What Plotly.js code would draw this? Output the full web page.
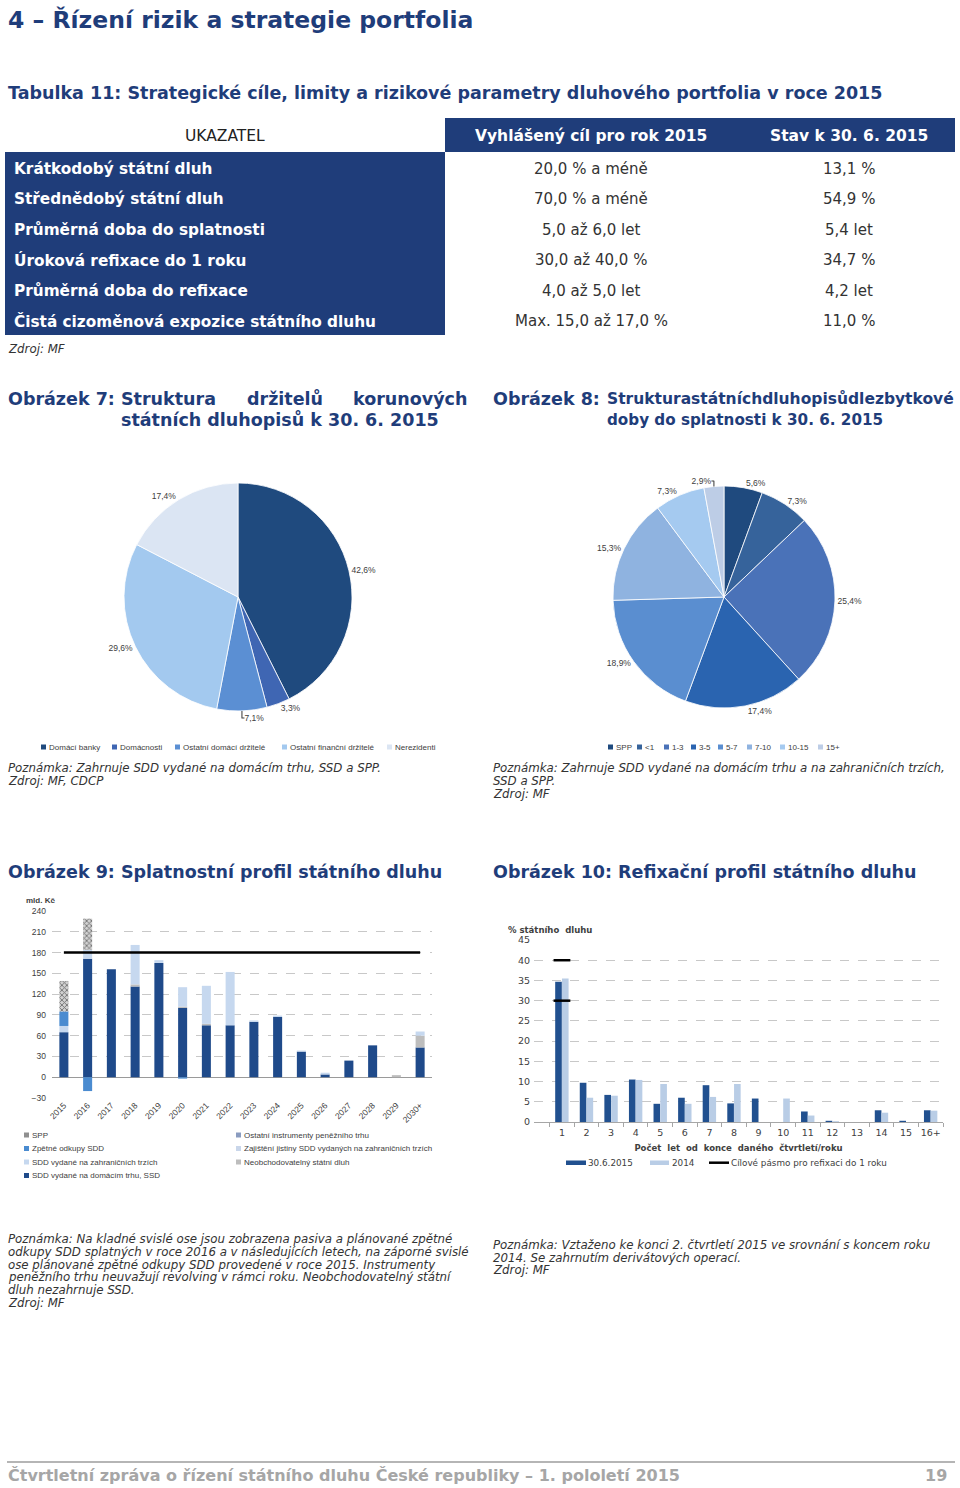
<!DOCTYPE html>
<html>
<head>
<meta charset="utf-8">
<script src="https://cdn.plot.ly/plotly-3.0.1.min.js"></script>
<style>
html,body{margin:0;padding:0;background:#fff;}
#page{width:960px;height:1488px;}
</style>
</head>
<body>
<div id="page"></div>
<script>
// ---------------- DATA ----------------
// Tabulka 11
const tableHeader = ['UKAZATEL', 'Vyhlášený cíl pro rok 2015', 'Stav k 30. 6. 2015'];
const tableIndicators = ['Krátkodobý státní dluh', 'Střednědobý státní dluh', 'Průměrná doba do splatnosti',
  'Úroková refixace do 1 roku', 'Průměrná doba do refixace', 'Čistá cizoměnová expozice státního dluhu'];
const tableTargets = ['20,0 % a méně', '70,0 % a méně', '5,0 až 6,0 let', '30,0 až 40,0 %', '4,0 až 5,0 let', 'Max. 15,0 až 17,0 %'];
const tableActual = ['13,1 %', '54,9 %', '5,4 let', '34,7 %', '4,2 let', '11,0 %'];

// Obrázek 7
const holdersLabels = ['Domácí banky', 'Domácnosti', 'Ostatní domácí držitelé', 'Ostatní finanční držitelé', 'Nerezidenti'];
const holdersValues = [42.6, 3.3, 7.1, 29.6, 17.4];

// Obrázek 8
const maturityLabels = ['SPP', '<1', '1-3', '3-5', '5-7', '7-10', '10-15', '15+'];
const maturityValues = [5.6, 7.3, 25.4, 17.4, 18.9, 15.3, 7.3, 2.9];

// Obrázek 9 (mld. Kč)
const years = ['2015','2016','2017','2018','2019','2020','2021','2022','2023','2024','2025','2026','2027','2028','2029','2030+'];
const sddDomestic   = [65, 171, 156, 131, 165, 100, 75, 75, 80, 87, 37, 4, 24, 46, 0, 43];
const nonMarketable = [0, 0, 0, 3, 0, 2, 2, 0, 0, 0, 0, 0, 0, 0, 3, 17];
const sddForeign    = [9, 13, 0, 57, 4, 28, 55, 77, 2, 2, 1.5, 2.5, 0, 0, 0, 6];
const buybacks      = [21, -20, 0, 0, 0, -2, 0, 0, 0, 0, 0, 0, 0, 0, 0, 0];
const sppIssues     = [44, 45, 0, 0, 0, 0, 0, 0, 0, 0, 0, 0, 0, 0, 0, 0];
const maturityLimit = 180;
const legend9Left  = ['SPP', 'Zpětné odkupy SDD', 'SDD vydané na zahraničních trzích', 'SDD vydané na domácím trhu, SSD'];
const legend9Right = ['Ostatní instrumenty peněžního trhu', 'Zajištění jistiny SDD vydaných na zahraničních trzích', 'Neobchodovatelný státní dluh'];

// Obrázek 10 (% státního dluhu)
const refixBuckets = ['1','2','3','4','5','6','7','8','9','10','11','12','13','14','15','16+'];
const refix2015 = [34.7, 9.7, 6.7, 10.5, 4.5, 6.0, 9.1, 4.6, 5.8, 0, 2.6, 0.3, 0, 2.9, 0.3, 2.9];
const refix2014 = [35.5, 6.0, 6.5, 10.4, 9.4, 4.5, 6.2, 9.4, 0, 5.8, 1.6, 0.2, 0, 2.3, 0, 2.8];
const refixTargetBand = [30, 40];
const legend10 = ['30.6.2015', '2014', 'Cílové pásmo pro refixaci do 1 roku'];

// ---------------- STYLE ----------------
const W = 960, H = 1488;
const X = p => p / W;
const Y = p => 1 - p / H;
const FONT = 'DejaVu Sans, Verdana, sans-serif';
const CFONT = 'Liberation Sans, Arial, sans-serif';
const NAVY = '#1f3d7a';
const TEXT = '#333333';
const LEG = '#404040';
const holdersColors = ['#1f4a7e', '#3f66b3', '#5b8fd3', '#a3c9ef', '#dbe5f3'];
const maturityColors = ['#1f4a7e', '#36639b', '#4a72b8', '#2a64b0', '#5a8ed0', '#8fb3e0', '#a5caf0', '#bdcde6'];
const c9 = {dom:'#1f4a8a', neob:'#bdbdbd', foreign:'#c6d8ef', buy:'#4a8bd0', spp:'#cfcfcf', other:'#8a9cc0', guar:'#c9d6ea'};
const c10 = {a:'#21508f', b:'#b9cde6'};

// table geometry (page pixels)
const TBL = {x0:5, x1:955, top:118, headH:34, rowH:30.5, colEdges:[5, 445, 735, 955],
  textX:[13, 591, 849], textDy:1.5};

const annotations = [];
const shapes = [];
function addText(text, x, y, size, o) {
  o = o || {};
  annotations.push({
    xref:o.xref || 'paper', yref:o.yref || 'paper',
    x:o.xref ? x : X(x), y:o.yref ? y : Y(y), text:text, showarrow:false,
    xanchor:o.anchor || 'left', yanchor:'middle', align:'left', borderpad:0,
    font:{family:o.family || FONT, size:size, color:o.color || TEXT}
  });
}
function addRect(x0, x1, y0, y1, color) {
  shapes.push({type:'rect', xref:'paper', yref:'paper', x0:X(x0), x1:X(x1), y0:Y(y1), y1:Y(y0),
    fillcolor:color, line:{width:0}});
}
function addLine(x0, x1, y, color, w) {
  shapes.push({type:'line', xref:'paper', yref:'paper', x0:X(x0), x1:X(x1), y0:Y(y), y1:Y(y),
    line:{color:color, width:w}});
}

// ---------------- TEXT ----------------
addText('<b>4 – Řízení rizik a strategie portfolia</b>', 7, 20, 23.5, {color:NAVY});
addText('<b>Tabulka 11: Strategické cíle, limity a rizikové parametry dluhového portfolia v roce 2015</b>', 7, 93, 17.5, {color:NAVY});
addText('<i>Zdroj: MF</i>', 7, 349, 11.8);

addText('<b>Obrázek 7:</b>', 7, 399, 17.5, {color:NAVY});
addText('<b>Struktura</b>', 120, 399, 17.5, {color:NAVY});
addText('<b>držitelů</b>', 246, 399, 17.5, {color:NAVY});
addText('<b>korunových</b>', 468, 399, 17.5, {color:NAVY, anchor:'right'});
addText('<b>státních dluhopisů k 30. 6. 2015</b>', 120, 420, 17.5, {color:NAVY});
addText('<b>Obrázek 8:</b>', 492, 399, 17.5, {color:NAVY});
addText('<b>Strukturastátníchdluhopisůdlezbytkové</b>', 606, 399, 15.5, {color:NAVY});
addText('<b>doby do splatnosti k 30. 6. 2015</b>', 606, 420, 15.2, {color:NAVY});

addText('<i>Poznámka: Zahrnuje SDD vydané na domácím trhu, SSD a SPP.</i>', 7, 768, 11.8);
addText('<i>Zdroj: MF, CDCP</i>', 7, 781, 11.8);
addText('<i>Poznámka: Zahrnuje SDD vydané na domácím trhu a na zahraničních trzích,</i>', 492, 768, 11.8);
addText('<i>SSD a SPP.</i>', 492, 781, 11.8);
addText('<i>Zdroj: MF</i>', 492, 794, 11.8);

addText('<b>Obrázek 9: Splatnostní profil státního dluhu</b>', 7, 872, 17.5, {color:NAVY});
addText('<b>Obrázek 10: Refixační profil státního dluhu</b>', 492, 872, 17.5, {color:NAVY});

const note9 = ['Poznámka: Na kladné svislé ose jsou zobrazena pasiva a plánované zpětné',
  'odkupy SDD splatných v roce 2016 a v následujících letech, na záporné svislé',
  'ose plánované zpětné odkupy SDD provedené v roce 2015. Instrumenty',
  'peněžního trhu neuvažují revolving v rámci roku. Neobchodovatelný státní',
  'dluh nezahrnuje SSD.', 'Zdroj: MF'];
note9.forEach((t, i) => addText('<i>' + t + '</i>', 7, 1239 + i * 12.8, 11.8));
const note10 = ['Poznámka: Vztaženo ke konci 2. čtvrtletí 2015 ve srovnání s koncem roku',
  '2014. Se zahrnutím derivátových operací.', 'Zdroj: MF'];
note10.forEach((t, i) => addText('<i>' + t + '</i>', 492, 1245 + i * 12.5, 11.8));

addLine(7, 955, 1462, '#b5b5b5', 2);
addText('<b>Čtvrtletní zpráva o řízení státního dluhu České republiky – 1. pololetí 2015</b>', 7, 1475, 16, {color:'#a6a6a6'});
addText('<b>19</b>', 948, 1475, 16, {color:'#a6a6a6', anchor:'right'});

// chart-internal text
addText('<b>mld. Kč</b>', 25, 900, 8, {family:CFONT, color:LEG});
addText('<b>% státního  dluhu</b>', 507, 930, 8.5, {color:LEG});

// ---------------- TABLE TEXT ----------------
const rowCenter = i => TBL.top + TBL.headH + TBL.rowH * (i + 0.5) + TBL.textDy;
const headCenter = TBL.top + TBL.headH / 2 + 1;
addText(tableHeader[0], (TBL.colEdges[0] + TBL.colEdges[1]) / 2, headCenter, 15.5, {xref:'x3', yref:'y3', anchor:'center', color:'#222222'});
addText('<b>' + tableHeader[1] + '</b>', TBL.textX[1], headCenter, 15.5, {xref:'x3', yref:'y3', anchor:'center', color:'white'});
addText('<b>' + tableHeader[2] + '</b>', TBL.textX[2], headCenter, 15.5, {xref:'x3', yref:'y3', anchor:'center', color:'white'});
tableIndicators.forEach((t, i) => {
  addText('<b>' + t + '</b>', TBL.textX[0], rowCenter(i), 15.3, {xref:'x3', yref:'y3', color:'white'});
  addText(tableTargets[i], TBL.textX[1], rowCenter(i), 15, {xref:'x3', yref:'y3', anchor:'center', color:TEXT});
  addText(tableActual[i], TBL.textX[2], rowCenter(i), 15, {xref:'x3', yref:'y3', anchor:'center', color:TEXT});
});

// ---------------- LEGENDS (compact) ----------------
const esc = s => s.replace(/</g, '&lt;');
const leg7x = [41, 112, 175, 282, 387];
holdersLabels.forEach((l, i) => {
  addRect(leg7x[i], leg7x[i] + 5, 744.5, 749.5, holdersColors[i]);
  addText(esc(l), leg7x[i] + 6.5, 747, 8, {family:CFONT, color:LEG});
});
const leg8x = [608, 637, 664, 691, 718, 747, 780, 818];
maturityLabels.forEach((l, i) => {
  addRect(leg8x[i], leg8x[i] + 5, 744.5, 749.5, maturityColors[i]);
  addText(esc(l), leg8x[i] + 7, 747, 8, {family:CFONT, color:LEG});
});
const leg9LeftColors = [c9.spp, c9.buy, c9.foreign, c9.dom];
const leg9RightColors = [c9.other, c9.guar, c9.neob];
const leg9y = [1135, 1148.5, 1162, 1175.5];
legend9Left.forEach((l, i) => {
  addRect(24, 29, leg9y[i] - 2.5, leg9y[i] + 2.5, i === 0 ? '#8f8f8f' : leg9LeftColors[i]);
  addText(l, 31, leg9y[i], 8, {family:CFONT, color:LEG});
});
legend9Right.forEach((l, i) => {
  addRect(236, 241, leg9y[i] - 2.5, leg9y[i] + 2.5, leg9RightColors[i]);
  addText(l, 243, leg9y[i], 8, {family:CFONT, color:LEG});
});
addRect(566, 586, 1160.5, 1165, c10.a);
addText(legend10[0], 587, 1162.5, 8.8, {color:LEG});
addRect(650, 669, 1160.5, 1165, c10.b);
addText(legend10[1], 671, 1162.5, 8.8, {color:LEG});
addLine(709, 729, 1162.7, '#000', 2.5);
addText(legend10[2], 730, 1162.5, 8.8, {color:LEG});

// ---------------- TRACES ----------------
const traces = [];

// Table cells: header row + one row per indicator, navy vs white fill
const rowEdges = [TBL.top, TBL.top + TBL.headH].concat(tableIndicators.map((_, i) => TBL.top + TBL.headH + TBL.rowH * (i + 1)));
const cellFill = [[0, 1, 1]].concat(tableIndicators.map(() => [1, 0, 0]));
traces.push({
  type:'heatmap', x:TBL.colEdges, y:rowEdges, z:cellFill, zmin:0, zmax:1,
  colorscale:[[0, '#ffffff'], [1, NAVY]], showscale:false, xaxis:'x3', yaxis:'y3', hoverinfo:'skip'
});

// Pies
traces.push({
  type:'pie', labels:holdersLabels, values:holdersValues, sort:false, direction:'clockwise', rotation:0,
  marker:{colors:holdersColors, line:{color:'white', width:0.8}},
  textposition:'outside', texttemplate:'%{value:.1f}%', textfont:{family:CFONT, size:8.5, color:LEG},
  domain:{x:[X(124), X(352)], y:[Y(711), Y(483)]}, showlegend:false, automargin:false
});
traces.push({
  type:'pie', labels:maturityLabels, values:maturityValues, sort:false, direction:'clockwise', rotation:0,
  marker:{colors:maturityColors, line:{color:'white', width:0.8}},
  textposition:'outside', texttemplate:'%{value:.1f}%', textfont:{family:CFONT, size:8.5, color:LEG},
  domain:{x:[X(613), X(835)], y:[Y(708), Y(486)]}, showlegend:false, automargin:false
});

// Obrázek 9: stacked bars (positive and negative parts stacked separately)
const stack9 = [
  {name:'SDD vydané na domácím trhu, SSD', y:sddDomestic, color:c9.dom},
  {name:'Neobchodovatelný státní dluh', y:nonMarketable, color:c9.neob},
  {name:'SDD vydané na zahraničních trzích', y:sddForeign, color:c9.foreign},
  {name:'Zpětné odkupy SDD', y:buybacks, color:c9.buy},
  {name:'SPP', y:sppIssues, color:c9.spp, pattern:true}
];
const posBase = years.map(() => 0), negBase = years.map(() => 0);
stack9.forEach(s => {
  const base = s.y.map((v, i) => v >= 0 ? posBase[i] : negBase[i]);
  s.y.forEach((v, i) => { if (v >= 0) posBase[i] += v; else negBase[i] += v; });
  const marker = {color:s.color, line:{width:0}};
  if (s.pattern) marker.pattern = {shape:'x', fgcolor:'#707070', bgcolor:'#d2d2d2', size:3.5, solidity:0.45, fillmode:'replace'};
  traces.push({type:'bar', name:s.name, x:years, y:s.y, base:base, width:0.38, offset:-0.19,
    marker:marker, xaxis:'x', yaxis:'y', showlegend:false});
});
traces.push({type:'scatter', mode:'lines', x:[years[0], years[years.length - 1]], y:[maturityLimit, maturityLimit],
  line:{color:'#000', width:2.5}, xaxis:'x', yaxis:'y', showlegend:false});

// Obrázek 10: grouped bars
traces.push({type:'bar', name:legend10[0], x:refixBuckets, y:refix2015, width:0.27, offset:-0.275,
  marker:{color:c10.a}, xaxis:'x2', yaxis:'y2', showlegend:false});
traces.push({type:'bar', name:legend10[1], x:refixBuckets, y:refix2014, width:0.27, offset:0,
  marker:{color:c10.b}, xaxis:'x2', yaxis:'y2', showlegend:false});
traces.push({type:'scatter', mode:'markers', name:legend10[2], x:refixTargetBand.map(() => refixBuckets[0]), y:refixTargetBand,
  marker:{symbol:'line-ew', size:12, line:{color:'#000', width:2.5}}, xaxis:'x2', yaxis:'y2', showlegend:false});

// ---------------- LAYOUT ----------------
const gridStyle = {gridcolor:'#c8c8c8', griddash:'dash', gridwidth:1};
const hiddenAxis = {showgrid:false, zeroline:false, showticklabels:false, showline:false, ticks:'', fixedrange:true};
const tableBottom = rowEdges[rowEdges.length - 1];
const layout = {
  width:W, height:H, margin:{l:0, r:0, t:0, b:0}, paper_bgcolor:'white', plot_bgcolor:'white',
  separators:', ', showlegend:false, barmode:'overlay', hovermode:false,
  annotations:annotations, shapes:shapes,
  xaxis:{domain:[X(52), X(432)], type:'category', anchor:'y', tickangle:-45,
    tickfont:{family:CFONT, size:8.5, color:LEG}, showgrid:false, showline:false, ticks:'', fixedrange:true},
  yaxis:Object.assign({domain:[Y(1098), Y(911)], anchor:'x', range:[-30, 240], dtick:30,
    tickfont:{family:CFONT, size:8.5, color:LEG}, zeroline:true, zerolinecolor:'#9a9a9a', zerolinewidth:1,
    ticks:'', showline:false, fixedrange:true, ticklabelstandoff:5}, gridStyle),
  xaxis2:{domain:[X(534), X(943)], type:'category', anchor:'y2', tickangle:0,
    tickfont:{family:FONT, size:9.5, color:LEG}, showgrid:false, showline:true, linecolor:'#a6a6a6',
    ticks:'outside', tickson:'boundaries', ticklen:4, tickcolor:'#a6a6a6', ticklabelstandoff:2,
    title:{text:'<b>Počet  let  od  konce  daného  čtvrtletí/roku</b>', font:{family:FONT, size:8.5, color:LEG}, standoff:7}},
  yaxis2:Object.assign({domain:[Y(1122), Y(940)], anchor:'x2', range:[0, 45], dtick:5,
    tickfont:{family:FONT, size:9.5, color:LEG}, zeroline:false, ticks:'', showline:false, ticklabelstandoff:3}, gridStyle),
  xaxis3:Object.assign({domain:[X(TBL.x0), X(TBL.x1)], range:[TBL.x0, TBL.x1], anchor:'y3'}, hiddenAxis),
  yaxis3:Object.assign({domain:[Y(tableBottom), Y(TBL.top)], range:[tableBottom, TBL.top], anchor:'x3'}, hiddenAxis)
};

Plotly.newPlot('page', traces, layout, {staticPlot:true, displayModeBar:false});
</script>
</body>
</html>
